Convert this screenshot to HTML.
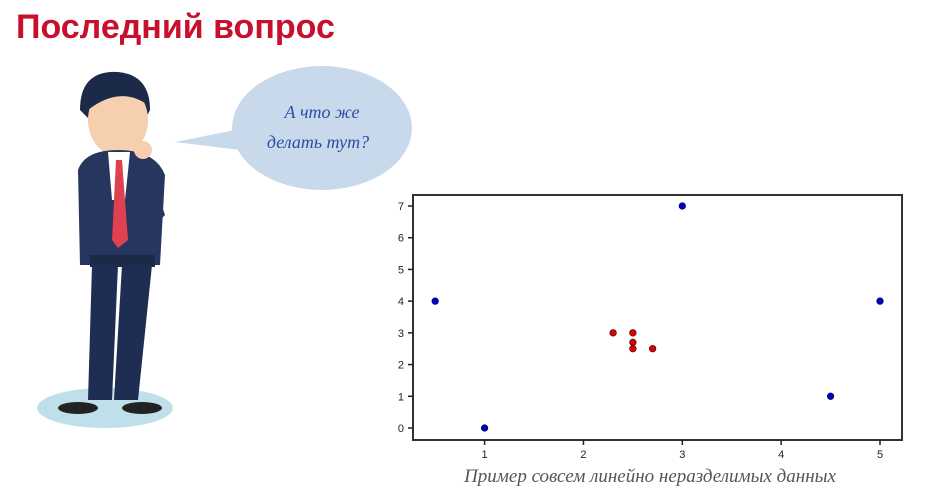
<!DOCTYPE html>
<html><head><meta charset="utf-8"><style>
body{margin:0;width:927px;height:501px;background:#fff;overflow:hidden;position:relative;font-family:"Liberation Sans",sans-serif}
#title{position:absolute;left:16px;top:8px;font-size:34px;font-weight:bold;color:#c8102e;margin:0}
</style></head><body>
<h1 id="title">Последний вопрос</h1>
<svg width="927" height="501" style="position:absolute;left:0;top:0">
  <ellipse cx="105" cy="408" rx="68" ry="20" fill="#bfe0ea"/>
  <ellipse cx="322" cy="128" rx="90" ry="62" fill="#c9d9ec"/>
  <polygon points="235,130 175,142 240,150" fill="#c9d9ec"/>
  <text x="322" y="118" text-anchor="middle" font-family="Liberation Serif,serif" font-style="italic" font-size="18" fill="#2a4da0">А что же</text>
  <text x="318" y="148" text-anchor="middle" font-family="Liberation Serif,serif" font-style="italic" font-size="18" fill="#2a4da0">делать тут?</text>
  <g>
    <path d="M80 110 Q80 70 118 72 Q150 75 150 110 L145 120 L90 120Z" fill="#1c2a4a"/>
    <ellipse cx="118" cy="120" rx="30" ry="36" fill="#f6cfae"/>
    <path d="M85 100 Q95 68 130 75 Q150 85 148 105 Q120 85 88 110Z" fill="#1c2a4a"/>
    <path d="M78 170 Q85 150 118 150 Q155 150 165 175 L160 265 L80 265Z" fill="#26365e"/>
    <polygon points="108,152 130,152 125,200 112,200" fill="#fff"/>
    <polygon points="116,160 122,160 128,240 118,248 112,240" fill="#e04050"/>
    <rect x="90" y="255" width="65" height="12" fill="#1c2a4a"/>
    <polygon points="92,265 118,265 112,400 88,400" fill="#1f2d52"/>
    <polygon points="122,265 152,265 138,400 114,400" fill="#1f2d52"/>
    <ellipse cx="78" cy="408" rx="20" ry="6" fill="#222"/>
    <ellipse cx="142" cy="408" rx="20" ry="6" fill="#222"/>
    <circle cx="143" cy="150" r="9" fill="#f6cfae"/>
    <path d="M148 165 L165 215 L150 230 L135 180Z" fill="#26365e"/>
  </g>
</svg>
<svg id="chart" width="927" height="501" style="position:absolute;left:0;top:0"></svg>
<script>
const xTicks=[1,2,3,4,5];
const yTicks=[0,1,2,3,4,5,6,7];
const blueX=[0.5,1,3,4.5,5];
const blueY=[4,0,7,1,4];
const redX=[2.3,2.5,2.5,2.5,2.7];
const redY=[3,3,2.7,2.5,2.5];
const NS="http://www.w3.org/2000/svg";
const svg=document.getElementById('chart');
const L=413,R=902,T=195,B=440;
function sx(v){return 484.6+(v-1)*(880-484.6)/4;}
function sy(v){return 428-(v)*(428-206)/7;}
function mk(t,a){const e=document.createElementNS(NS,t);for(const k in a)e.setAttribute(k,a[k]);svg.appendChild(e);return e;}
const fr=mk('rect',{x:L,y:T,width:R-L,height:B-T,fill:'none',stroke:'#333','stroke-width':2});


xTicks.forEach(v=>{
  const x=sx(v);
  const t=mk('line',{x1:x,x2:x,y1:B,y2:B+5,stroke:'#222','stroke-width':1.5});
  
  
  const l=mk('text',{x:x,y:B+18,'text-anchor':'middle','font-size':11,fill:'#222'});
  l.textContent=v;
  
  
});
yTicks.forEach(v=>{
  const y=sy(v);
  const t=mk('line',{x1:L-5,x2:L,y1:y,y2:y,stroke:'#222','stroke-width':1.5});
  
  
  const l=mk('text',{x:L-9,y:y+4,'text-anchor':'end','font-size':11,fill:'#222'});
  l.textContent=v;
  
  
});
blueX.forEach((v,i)=>{
  const c=mk('circle',{cx:sx(v),cy:sy(blueY[i]),r:3.3,fill:'#0000cc',stroke:'#000033','stroke-width':0.6});
  
  
});
redX.forEach((v,i)=>{
  const c=mk('circle',{cx:sx(v),cy:sy(redY[i]),r:3.3,fill:'#dd0000',stroke:'#330000','stroke-width':0.6});
  
  
});
const xl=mk('text',{x:650,y:482,'text-anchor':'middle','font-size':19,'font-style':'italic','font-family':'Liberation Serif,serif',fill:'#555'});
xl.textContent='Пример совсем линейно неразделимых данных';


</script>
</body></html>
